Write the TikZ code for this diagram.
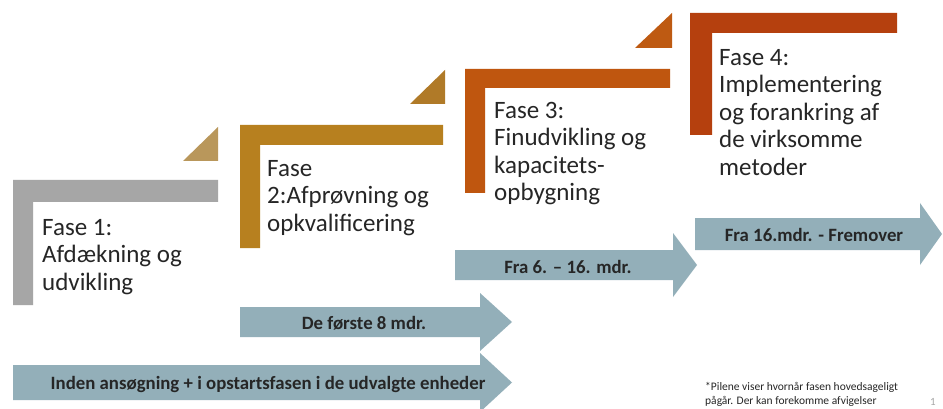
\documentclass[tikz,border=0pt]{standalone}
\usepackage{fontspec}
\setmainfont{Carlito}
\definecolor{cgray}{HTML}{A6A6A6}
\definecolor{ctan}{HTML}{B9975B}
\definecolor{cgold}{HTML}{B7801F}
\definecolor{cgoldt}{HTML}{B07A28}
\definecolor{corange}{HTML}{BF560F}
\definecolor{corangt}{HTML}{BE5A12}
\definecolor{cred}{HTML}{B5400E}
\definecolor{carrow}{HTML}{93AFB9}
\definecolor{ctext}{HTML}{262626}
\begin{document}
\begin{tikzpicture}[x=1pt,y=-1pt,
  phasetext/.style={anchor=north west,align=left,inner sep=0pt,text=ctext,
    font=\fontsize{25}{27.5}\selectfont},
  arrowtext/.style={inner sep=0pt,text=ctext,font=\fontsize{18.8}{22}\selectfont\bfseries},
  arrowfill/.style={fill=carrow,draw=none}]
\useasboundingbox[fill=white] (0,0) rectangle (943,409);
% L-shapes
\fill[cgray] (13,180) -- (218,180) -- (218,202) -- (33,202) -- (33,305) -- (13,305) -- cycle;
\fill[ctan] (183,161) -- (218,161) -- (218,127) -- cycle;
\fill[cgold] (240,125) -- (443,125) -- (443,145) -- (260,145) -- (260,248) -- (240,248) -- cycle;
\fill[cgoldt] (410,104) -- (445,104) -- (445,70) -- cycle;
\fill[corange] (465,69) -- (670,69) -- (670,88) -- (485,88) -- (485,193) -- (465,193) -- cycle;
\fill[corangt] (635,48) -- (672,48) -- (672,13) -- cycle;
\fill[cred] (690,13) -- (897,13) -- (897,33) -- (712,33) -- (712,135) -- (690,135) -- cycle;
% phase texts
\node[phasetext] (p1) at (42,219) {Fase 1:\\Afdækning og\\udvikling};
\node[phasetext] (p2) at (267,160) {Fase\\2:Afprøvning og\\opkvalificering};
\node[phasetext] (p3) at (494,102) {Fase 3:\\Finudvikling og\\kapacitets-\\opbygning};
\node[phasetext] (p4) at (719,49) {Fase 4:\\Implementering\\og forankring af\\de virksomme\\metoder};
% arrows
\fill[arrowfill] (13,365) -- (480,365) -- (480,353) -- (512,382.5) -- (480,412) -- (480,400) -- (13,400) -- cycle;
\fill[arrowfill] (240,307) -- (480,307) -- (480,293) -- (512,322) -- (480,351) -- (480,337) -- (240,337) -- cycle;
\fill[arrowfill] (455,250) -- (673,250) -- (673,233) -- (697,265) -- (673,297) -- (673,280) -- (455,280) -- cycle;
\fill[arrowfill] (695,218) -- (920,218) -- (920,203) -- (942,234) -- (920,265) -- (920,250) -- (695,250) -- cycle;
\node[arrowtext] (a1) at (268,384) {Inden ansøgning + i opstartsfasen i de udvalgte enheder};
\node[arrowtext] (a2) at (364,323) {De første 8 mdr.};
\node[arrowtext] (a3) at (568,267) {Fra 6. – 16. mdr.};
\node[arrowtext] (a4) at (814,235) {Fra 16.mdr. - Fremover};
% footnote
\node[anchor=north west,align=left,inner sep=0pt,text=ctext,font=\fontsize{11.5}{14}\selectfont] (fn) at (705,382) {*Pilene viser hvornår fasen hovedsageligt\\pågår. Der kan forekomme afvigelser};
\node[inner sep=0pt,text=gray!70,font=\fontsize{11}{12}\selectfont] (pg) at (933,402) {1};
\end{tikzpicture}
\end{document}
